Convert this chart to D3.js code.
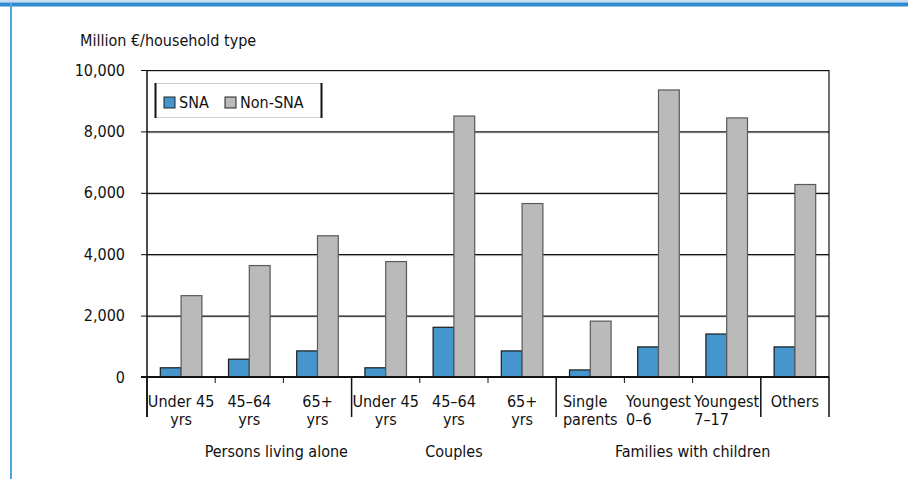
<html>
<head>
<meta charset="utf-8">
<script src="https://d3js.org/d3.v7.min.js"></script>
<style>
  body { margin: 0; background: #fff; }
  text { font-family: "DejaVu Sans Condensed", "Liberation Sans Narrow", sans-serif; font-size: 16px; fill: #111; }
</style>
</head>
<body onload="draw()">
<svg width="908" height="479"></svg>
<script>
// data
var categories = ["Under 45|yrs", "45\u201364|yrs", "65+|yrs",
                  "Under 45|yrs", "45\u201364|yrs", "65+|yrs",
                  "Single|parents", "Youngest|0\u20136", "Youngest|7\u201317", "Others"];
var series = ["SNA", "Non-SNA"];
var sna    = [300, 580, 850, 300, 1620, 850, 230, 980, 1400, 980];
var nonSna = [2650, 3630, 4600, 3760, 8500, 5650, 1820, 9350, 8440, 6270];
var yTicks = [0, 2000, 4000, 6000, 8000, 10000];
var groups = ["Persons living alone", "Couples", "Families with children"];
var groupStart = [0, 3, 6];
var groupEnd   = [2, 5, 9];
var separators = [0, 3, 6, 9, 10];   // long ticks before these categories
var leftAligned = [6, 7, 8];

var colors = { "SNA": "#4496cd", "Non-SNA": "#bababa" };
var strokes = { "SNA": "#1a1a1a", "Non-SNA": "#5a5a5a" };

function draw() {
  var svg = d3.select("svg");

  // frame decoration
  svg.append("rect").attr("x", 0).attr("y", 0).attr("width", 908).attr("height", 2.5).attr("fill", "#c5def1");
  svg.append("rect").attr("x", 0).attr("y", 2.5).attr("width", 908).attr("height", 4).attr("fill", "#2f8ad0");
  svg.append("rect").attr("x", 10).attr("y", 3).attr("width", 2).attr("height", 476).attr("fill", "#4aa6dc");

  var pl = 147, pr = 829, pt = 70, pb = 377;

  var x = d3.scaleBand().domain(d3.range(categories.length)).range([pl, pr]).padding(0);
  var x1 = d3.scaleBand().domain(series).range([0, x.bandwidth()]).paddingInner(0).paddingOuter(0.64);
  var y = d3.scaleLinear().domain([0, 10000]).range([pb, pt]);

  // title
  svg.append("text").attr("x", 80).attr("y", 46).text("Million \u20ac/household type");

  // gridlines (with faint shadow)
  yTicks.filter(function (d) { return d > 0; }).forEach(function (t) {
    svg.append("line").attr("x1", pl).attr("x2", pr)
      .attr("y1", y(t) + 1.5).attr("y2", y(t) + 1.5).attr("stroke", "#d0d0d0").attr("stroke-width", 1);
    svg.append("line").attr("x1", pl).attr("x2", pr)
      .attr("y1", y(t) + 0.5).attr("y2", y(t) + 0.5).attr("stroke", "#111").attr("stroke-width", 1.2);
  });

  // y axis
  var yAxis = d3.axisLeft(y).tickValues(yTicks).tickSize(6).tickPadding(16)
    .tickFormat(d3.format(","));
  var gy = svg.append("g").attr("transform", "translate(" + pl + ",0)").call(yAxis);
  gy.select(".domain").remove();
  gy.selectAll(".tick line").attr("stroke", "#111");
  gy.attr("font-size", null).attr("font-family", null);

  // plot border: left & right
  svg.append("line").attr("x1", pl).attr("x2", pl).attr("y1", pt).attr("y2", 417)
    .attr("stroke", "#111").attr("stroke-width", 1.5);
  svg.append("line").attr("x1", pr).attr("x2", pr).attr("y1", pt).attr("y2", pb)
    .attr("stroke", "#111").attr("stroke-width", 1.2);

  // bars
  var cat = svg.append("g").selectAll("g").data(categories).enter().append("g")
    .attr("transform", function (d, i) { return "translate(" + x(i) + ",0)"; });
  cat.selectAll("rect").data(function (d, i) {
      return [{ s: "SNA", v: sna[i] }, { s: "Non-SNA", v: nonSna[i] }];
    }).enter().append("rect")
    .attr("x", function (d) { return x1(d.s); })
    .attr("y", function (d) { return y(d.v); })
    .attr("width", x1.bandwidth())
    .attr("height", function (d) { return pb - y(d.v); })
    .attr("fill", function (d) { return colors[d.s]; })
    .attr("stroke", function (d) { return strokes[d.s]; })
    .attr("stroke-width", 1.2);

  // x axis line
  svg.append("line").attr("x1", pl - 6).attr("x2", pr).attr("y1", pb).attr("y2", pb)
    .attr("stroke", "#111").attr("stroke-width", 1.8);

  // ticks
  d3.range(categories.length + 1).forEach(function (i) {
    var xx = pl + i * x.step();
    var isLong = separators.indexOf(i) >= 0;
    svg.append("line").attr("x1", xx).attr("x2", xx).attr("y1", pb)
      .attr("y2", isLong ? 417 : 383).attr("stroke", "#111").attr("stroke-width", isLong ? 1.5 : 1);
  });

  // category labels (two lines each, as separate texts)
  categories.forEach(function (c, i) {
    var lines = c.split("|");
    var cx = x(i) + x.bandwidth() / 2;
    var ts = lines.map(function (l, k) {
      return svg.append("text").attr("x", cx).attr("y", 407 + k * 18)
        .attr("text-anchor", "middle").text(l);
    });
    if (leftAligned.indexOf(i) >= 0) {
      var w = d3.max(ts, function (t) { return t.node().getComputedTextLength(); });
      ts.forEach(function (t) { t.attr("text-anchor", "start").attr("x", cx - w / 2); });
    }
  });

  // group labels
  groups.forEach(function (g, k) {
    var cx = (x(groupStart[k]) + x(groupEnd[k]) + x.bandwidth()) / 2;
    if (k === 0) cx += 27;
    svg.append("text").attr("x", cx).attr("y", 457).attr("text-anchor", "middle").text(g);
  });

  // legend
  var lg = svg.append("g");
  lg.append("rect").attr("x", 155).attr("y", 83).attr("width", 167).attr("height", 35).attr("fill", "#fff");
  lg.append("line").attr("x1", 155).attr("x2", 322).attr("y1", 83.5).attr("y2", 83.5).attr("stroke", "#cfcfcf");
  lg.append("line").attr("x1", 155).attr("x2", 322).attr("y1", 117.5).attr("y2", 117.5).attr("stroke", "#cfcfcf");
  lg.append("line").attr("x1", 155.5).attr("x2", 155.5).attr("y1", 83).attr("y2", 118).attr("stroke", "#111").attr("stroke-width", 2);
  lg.append("line").attr("x1", 321.5).attr("x2", 321.5).attr("y1", 83).attr("y2", 118).attr("stroke", "#111").attr("stroke-width", 2);
  var legX = [164, 225];
  series.forEach(function (s, i) {
    lg.append("rect").attr("x", legX[i]).attr("y", 97).attr("width", 11).attr("height", 11)
      .attr("fill", colors[s]).attr("stroke", "#222").attr("stroke-width", 1);
    lg.append("text").attr("x", legX[i] + 15).attr("y", 108).text(s);
  });
}
</script>
</body>
</html>
